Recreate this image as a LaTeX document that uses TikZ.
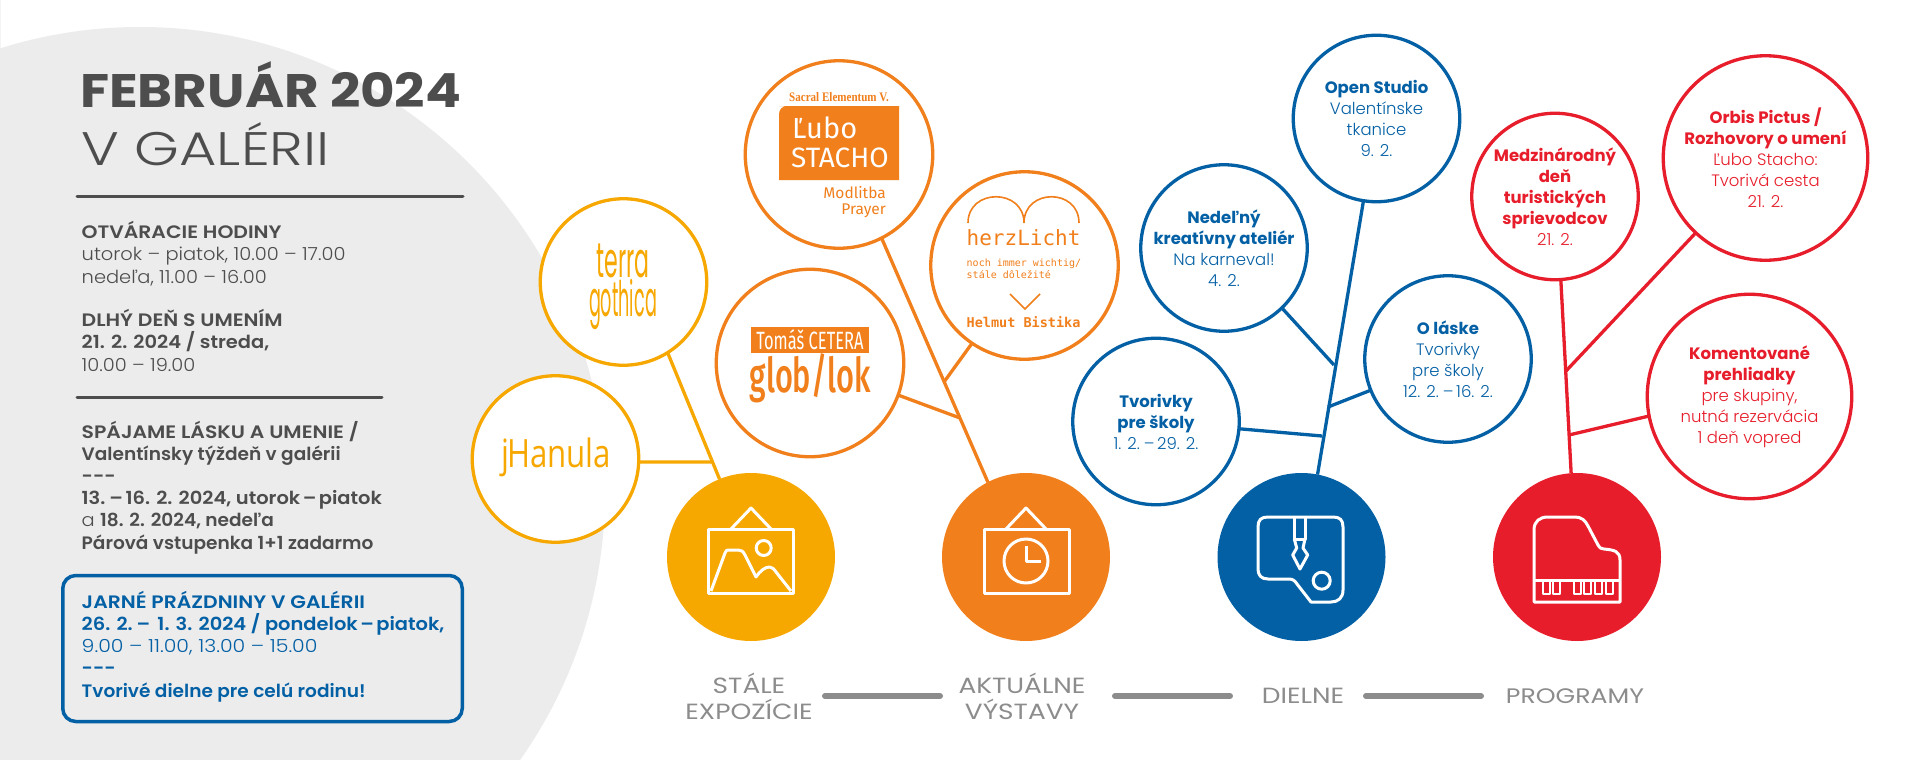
\documentclass[tikz,border=0pt]{standalone}
\usepackage{fontspec}
\setmainfont{Poppins}[UprightFont=* Light,BoldFont=* Bold]
\newfontfamily\leftfont{Poppins}[UprightFont=* Light,BoldFont=* SemiBold,FakeStretch=1.08]
\newfontfamily\wlightfont{Poppins}[UprightFont=* Light,FakeStretch=1.14]
\newfontfamily\capfont{Poppins}[UprightFont=* SemiBold,FakeStretch=1.13]
\newfontfamily\lowfont{Poppins}[UprightFont=* SemiBold,FakeStretch=1.03]
\newfontfamily\titlefont{Poppins}[UprightFont=* Bold,FakeStretch=1.13]
\newfontfamily\subtitlefont{Poppins}[UprightFont=* Light,FakeStretch=1.22]
\newfontfamily\labelfont{Poppins}[FakeStretch=1.2]
\newfontfamily\terrafont{Poppins}[FakeStretch=0.45]
\newfontfamily\gothfont{Poppins}[FakeStretch=0.36]
\newfontfamily\hanulafont{Open Sans}[FakeStretch=0.8]
\newfontfamily\globfont{Fira Sans}[UprightFont=* Medium,FakeStretch=0.64]
\newfontfamily\stachofont{Fira Sans}
\newfontfamily\cetfont{Fira Sans}[FakeStretch=0.66]
\newfontfamily\sacralfont{Liberation Serif}[UprightFont=* Bold,FakeStretch=0.85]
\newfontfamily\herzfont{DejaVu Sans Mono}
\newcommand{\fs}[2]{\fontsize{#1}{#2}\selectfont}
\newcommand{\dsh}{\kern-.12em–\kern-.12em}
\newcommand{\capb}[1]{{\capfont #1}}
\newcommand{\lowb}[1]{{\lowfont #1}}
\definecolor{galgray}{HTML}{ECECEC}
\definecolor{txtgray}{HTML}{4D4D4D}
\definecolor{labgray}{HTML}{8C8C8C}
\definecolor{galyellow}{HTML}{F7A800}
\definecolor{galorange}{HTML}{F07F1C}
\definecolor{galblue}{HTML}{0460A5}
\definecolor{galred}{HTML}{E71D2B}
\tikzset{
	bubble/.style={circle,draw=#1,text=#1,line width=3.3,fill=white,inner sep=0,outer sep=0,
		minimum size=166.5,align=center,font=\fs{16.5}{21}},
	hub/.style={circle,fill=#1,inner sep=0,outer sep=0,minimum size=168},
	stem/.style={draw=#1,line width=3.3},
	rulebar/.style={draw=txtgray,line width=3,line cap=round},
	greybar/.style={draw=labgray,line width=6,line cap=round},
	leftblock/.style={anchor=base west,align=left,text=txtgray,inner sep=0,font=\fs{18}{22.2}\leftfont},
	catlabel/.style={anchor=base,align=center,text=labgray,inner sep=0,font=\fs{22}{26}\labelfont},
	logotext/.style={anchor=base west,inner sep=0,text=#1},
	icon/.style={draw=white,line width=3,line join=round}
}
\begin{document}
\begin{tikzpicture}[x=1pt,y=-1pt]
	\useasboundingbox (0,0) rectangle (1920,760);
	\path[fill=white,draw=black!4,line width=1] (0,0) rectangle (1920,760);
	\begin{scope}
		\clip (0,0) rectangle (1920,760);
		\fill[galgray] (140,492) circle[radius=465];
	\end{scope}
	% left column
	\node[leftblock,font=\fs{47}{50}\titlefont] (title) at (80,107) {FEBRUÁR 2024};
	\node[leftblock,font=\fs{47}{50}\subtitlefont] (subtitle) at (81,165) {V GALÉRII};
	\coordinate (R1a) at (77,196);
	\coordinate (R1b) at (463,196);
	\draw[rulebar] (R1a) -- (R1b);
	\node[leftblock] (hours) at (81.5,283) {\capb{OTVÁRACIE HODINY}\\utorok – piatok, 10.00 – 17.00\\nedeľa, 11.00 – 16.00};
	\node[leftblock] (longday) at (81.5,371) {\capb{DLHÝ DEŇ S UMENÍM}\\\textbf{21. 2. 2024 / streda,}\\10.00 – 19.00};
	\coordinate (R2a) at (77,397);
	\coordinate (R2b) at (382,397);
	\draw[rulebar] (R2a) -- (R2b);
	\node[leftblock] (love) at (81.5,549) {\capb{SPÁJAME LÁSKU A UMENIE /}\\\lowb{Valentínsky týždeň v galérii}\\\textbf{-{}-{}-}\\\textbf{13. \dsh{} 16. 2. 2024, utorok \dsh{} piatok}\\a \lowb{18. 2. 2024, nedeľa}\\\lowb{Párová vstupenka 1+1 zadarmo}};
	\node[draw=galblue,line width=3.5,rounded corners=13,inner sep=0,minimum width=399.5,minimum height=146] (spring) at (262.5,648.5) {};
	\node[leftblock,text=galblue] (springtext) at (81.5,697) {\capb{JARNÉ PRÁZDNINY V GALÉRII}\\\textbf{26. 2. \dsh{} \ 1. 3. 2024 / pondelok \dsh{} piatok,}\\{\wlightfont 9.00 – 11.00, 13.00 – 15.00}\\\textbf{-{}-{}-}\\\lowb{Tvorivé dielne pre celú rodinu!}};
	% hubs
	\node[hub=galyellow] (stalehub) at (751,557) {};
	\node[hub=galorange] (aktualhub) at (1026,557) {};
	\node[hub=galblue] (dielnehub) at (1301.5,557) {};
	\node[hub=galred] (proghub) at (1577,557) {};
	% yellow branch
	\node[bubble=galyellow] (terra) at (623.5,282) {};
	\node[bubble=galyellow] (hanula) at (555.5,459) {};
	\coordinate (jhanula) at (711.5,462);
	\draw[stem=galyellow] (terra.-58.6) -- (stalehub.112.6);
	\draw[stem=galyellow] (hanula.-2) -- (jhanula);
	\node[logotext=galyellow,anchor=base,align=center,font=\fs{49}{37}] (terraname) at (623,316) {\terrafont terra\\\gothfont gothica};
	\node[logotext=galyellow,anchor=base,font=\fs{39}{39}\hanulafont] (hanulaname) at (556,467) {j\kern-2pt Hanula};
	% orange branch
	\node[bubble=galorange,minimum size=187.5] (stacho) at (839,154.5) {};
	\node[bubble=galorange,minimum size=187.5] (herz) at (1024.5,265.5) {};
	\node[bubble=galorange,minimum size=187.5] (glob) at (810,363) {};
	\coordinate (jherz) at (944,382);
	\coordinate (jglob) at (960,418);
	\draw[stem=galorange] (stacho.-63) -- (aktualhub.117.2);
	\draw[stem=galorange] (herz.-124) -- (jherz);
	\draw[stem=galorange] (glob.-20) -- (jglob);
	\node[logotext=galorange,anchor=base,font=\fs{13}{13}\sacralfont] (sacral) at (839,101) {Sacral Elementum V.};
	\fill[galorange] (779,180) -- (779,114) [rounded corners=8] -- (779,106) -- (787,106) [sharp corners] -- (899,106) -- (899,180) -- cycle;
	\node[logotext=white,font=\fs{29}{29}\stachofont] (lubo) at (792,138) {Ľubo};
	\node[logotext=white,font=\fs{28}{28}\stachofont] (stachoname) at (791,167) {STACHO};
	\node[logotext=galorange,anchor=base east,font=\fs{15.5}{15}\stachofont] (modl) at (886,198) {Modlitba};
	\node[logotext=galorange,anchor=base east,font=\fs{15.5}{15}\stachofont] (prayer) at (886,214) {Prayer};
	\fill[galorange] (750.5,327) rectangle (869,353);
	\node[logotext=white,anchor=base,font=\fs{25}{25}\cetfont] (cetera) at (810,349) {Tomáš CETERA};
	\node[logotext=galorange,anchor=base,font=\fs{48}{48}\globfont] (globlok) at (810,392) {glob/lok};
	\draw[galorange,line width=1.6] (968,223) .. controls (968,188) and (1024,188) .. (1024,223) .. controls (1024,188) and (1079,188) .. (1079,223);
	\node[logotext=galorange,font=\fs{21}{21}\herzfont] (herzlicht) at (966.5,245) {herzLicht};
	\node[logotext=galorange,font=\fs{10}{10}\herzfont] (noch) at (966.5,266) {noch immer wichtig/};
	\node[logotext=galorange,font=\fs{10}{10}\herzfont] (stale) at (966.5,278) {stále dôležité};
	\draw[galorange,line width=1.6] (1010,294) -- (1025,309) -- (1040,294);
	\node[logotext=galorange,font=\fs{13.5}{13.5}\herzfont\bfseries] (helmut) at (966.5,327) {Helmut Bistika};
	% blue branch
	\node[bubble=galblue] (openst) at (1376.5,118.5) {\textbf{Open Studio}\\Valentínske\\tkanice\\9. 2.};
	\node[bubble=galblue] (nedel) at (1224,248) {\textbf{Nedeľný}\\\textbf{kreatívny ateliér}\\Na karneval!\\4. 2.};
	\node[bubble=galblue] (tvor) at (1156,421.5) {\textbf{Tvorivky}\\\textbf{pre školy}\\1. 2. \dsh{} 29. 2.};
	\node[bubble=galblue] (laske) at (1448,359) {\textbf{O láske}\\Tvorivky\\pre školy\\12. 2. \dsh{} 16. 2.};
	\coordinate (jnedel) at (1334,365);
	\coordinate (jlaske) at (1328,407);
	\coordinate (jtvor) at (1322,436);
	\draw[stem=galblue] (openst.-99.7) -- (dielnehub.79.4);
	\draw[stem=galblue] (nedel.-46.4) -- (jnedel);
	\draw[stem=galblue] (laske.202.4) -- (jlaske);
	\draw[stem=galblue] (tvor.-5) -- (jtvor);
	% red branch
	\node[bubble=galred] (medz) at (1555,196.5) {\textbf{Medzinárodný}\\\textbf{deň}\\\textbf{turistických}\\\textbf{sprievodcov}\\21. 2.};
	\node[bubble=galred,minimum size=204.5] (orbis) at (1765.5,158) {\textbf{Orbis Pictus /}\\\textbf{Rozhovory o umení}\\Ľubo Stacho:\\Tvorivá cesta\\21. 2.};
	\node[bubble=galred,minimum size=204.5] (koment) at (1749.5,396.5) {\textbf{Komentované}\\\textbf{prehliadky}\\pre skupiny,\\nutná rezervácia\\1 deň vopred};
	\coordinate (jorbis) at (1566,371);
	\coordinate (jkoment) at (1569,435);
	\draw[stem=galred] (medz.-86.6) -- (proghub.94);
	\draw[stem=galred] (orbis.227.5) -- (jorbis);
	\draw[stem=galred] (koment.191.8) -- (jkoment);
	% icons
	\draw[icon] (708,529) rectangle (793,593);
	\draw[icon] (731,529) -- (751,508) -- (771,529);
	\draw[icon] (763.7,548) circle[radius=7.5];
	\draw[icon] (711,591) -- (725,553) .. controls (726,550) and (727,550) .. (729,550) -- (738,550) .. controls (741,550) and (743,551) .. (745,555) -- (756,577) .. controls (760,571) and (765,567) .. (769.5,567) .. controls (772,567) and (774,569) .. (776,572) -- (791,591);
	\draw[icon] (984,529) rectangle (1069,593);
	\draw[icon] (1006,529) -- (1026,508) -- (1046,529);
	\draw[icon] (1026,561) circle[radius=22];
	\draw[icon] (1026,546) -- (1026,561) -- (1040.5,561);
	\draw[icon] (1258,527) .. controls (1258,520) and (1261,517) .. (1268,517) -- (1333,517) .. controls (1340,517) and (1343,520) .. (1343,527) -- (1343,590) .. controls (1343,598) and (1338,602) .. (1331,602) -- (1311,602) -- (1297,584) .. controls (1295,581) and (1293,579) .. (1289,579) -- (1268,579) .. controls (1261,579) and (1258,575) .. (1258,569) -- cycle;
	\draw[icon] (1294.3,517) -- (1294.3,539) -- (1305,539) -- (1305,517);
	\draw[icon] (1294.3,539) -- (1296.7,548) -- (1292.7,555) -- (1300,569) -- (1307.7,555) -- (1303,548) -- (1305,539);
	\draw[icon] (1321.7,580.7) circle[radius=8.5];
	\draw[icon] (1534,602) -- (1534,530) .. controls (1534,521) and (1540,517) .. (1548,517) -- (1575,517) .. controls (1581,517) and (1585,520) .. (1588,526) -- (1598,545) .. controls (1600,548) and (1601,549) .. (1604,549) .. controls (1614,550) and (1620,551) .. (1620,560) -- (1620,602) -- cycle;
	\draw[icon] (1534,580) -- (1620,580);
	\foreach \keyx in {1542.5,1552.5,1574,1584,1595,1605.5}
		\draw[icon,line width=2] (\keyx,581) -- (\keyx,594) -- ++(7,0) -- ++(0,-13);
	% bottom labels
	\node[catlabel] (lab1) at (749,693) {STÁLE};
	\node[catlabel] (lab1b) at (749,719) {EXPOZÍCIE};
	\node[catlabel] (lab2) at (1022,693) {AKTUÁLNE};
	\node[catlabel] (lab2b) at (1022,719) {VÝSTAVY};
	\node[catlabel] (lab3) at (1303,703) {DIELNE};
	\node[catlabel,font=\fs{21}{26}\labelfont] (lab4) at (1575,703) {PROGRAMY};
	\coordinate (B1a) at (825,696);
	\coordinate (B1b) at (940,696);
	\coordinate (B2a) at (1115,696);
	\coordinate (B2b) at (1230,696);
	\coordinate (B3a) at (1366,696);
	\coordinate (B3b) at (1481,696);
	\draw[greybar] (B1a) -- (B1b);
	\draw[greybar] (B2a) -- (B2b);
	\draw[greybar] (B3a) -- (B3b);
\end{tikzpicture}
\end{document}
